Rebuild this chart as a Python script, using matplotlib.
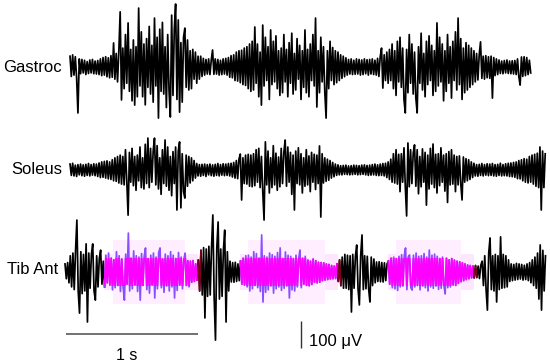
import matplotlib
matplotlib.use("Agg")
import matplotlib.pyplot as plt
from matplotlib.patches import Rectangle
import numpy as np

plt.rcParams['font.family'] = ['Liberation Sans', 'DejaVu Sans']

# ---------------- data (µV, sampled every 10 ms) ----------------
dt = 0.01
gastroc_t0 = 0.038
soleus_t0 = 0.038
tib_t0 = 0.0

gastroc = [
    40, -35, 45, -30, 38, -40, -170, 30, -25, 28, -22, 25, -28, 20, -24, 26, -22, 28, -25, 22,
    -26, 24, -28, 30, -32, 35, -30, 38, -36, 34, -40, 42, -38, 89, -45, 50, -55, 60, 204, -122,
    70, -80, 120, -60, 163, -90, 65, -125, 100, -141, 75, -110, 218, -70, 130, -110, 85, -140, 105, -75,
    150, -100, 80, -130, 181, -70, 110, -189, 140, -90, 165, -100, 75, -150, 120, -85, -185, 192, -105, 140,
    233, -120, 174, -167, 90, -130, 110, 144, -75, 100, -85, 60, -80, 65, -45, 55, -60, 40, -45, 40,
    -35, 32, -30, 28, -26, 30, -28, 25, 63, -27, 30, -26, 28, -30, 25, -28, 30, -26, 32, -30,
    35, -38, 42, -40, 45, -50, 55, -52, 60, -58, 62, -65, 70, -68, 75, -80, 85, -90, 95, -85,
    148, -60, 85, -110, 55, -141, 155, -70, 110, -50, 75, -120, 137, -65, 95, -55, 115, -80, 60, -105,
    70, -95, 120, -55, 65, -110, 90, -60, 125, -100, 50, -85, 105, -45, 80, -120, 60, -75, 137, -95,
    65, -110, 85, -50, 120, -70, 181, -148, 60, -95, 110, -55, 75, -90, -189, 60, -80, 95, -50, 72,
    -65, 60, -58, 55, -50, 45, -42, 40, -36, 34, -30, 28, -26, 30, -28, 25, -27, 30, -26, 28,
    -30, 26, -28, 30, -25, 27, -30, 28, -26, 30, -28, 25, -30, 32, -35, 38, 70, -78, 45, -50,
    55, -60, 65, -50, 85, -80, 60, -105, 95, -55, 110, -75, 70, -120, -170, 65, -95, 120, -60, 85,
    -100, 55, -115, -170, 75, -60, 125, -85, 50, -110, 95, -65, 115, -50, 80, -105, 60, -90, 163, -70,
    110, -55, 85, -125, 60, -90, 120, -60, 75, -115, 95, -50, 130, -85, 181, -65, 105, -120, 70, -95,
    90, -85, 80, -75, 70, -65, 60, -55, 50, -48, 45, 93, -42, 40, -45, 42, -40, 38, -42, 40,
    -115, 35, -32, 30, -28, 26, -24, 22, -25, 24, -22, 26, -24, 22, -25, 23, -26, 24, -28, 30,
    -35, -67, 37, -35, 38, -32, 35, -28, 25, -22,
]

soleus = [
    22, -20, 25, -22, 18, -24, 20, -18, 22, -21, 19, -23, 21, -20, 24, -22, 20, -19, 23, -21,
    22, -24, 26, -28, 30, -27, 32, -30, 34, -33, 30, -35, 38, -40, 45, -42, 50, -48, 55, -52,
    50, -55, 75, -40, -167, 65, -45, 80, -58, 50, -75, 55, -40, 85, -65, 45, -70, 95, -50, 118,
    -65, 80, -45, 70, 118, -55, 90, -70, 45, -90, 75, -50, 111, -60, 85, -75, 50, -95, 68, -50,
    85, -148, 70, 104, -140, 60, -80, -104, 55, -60, 50, -48, 45, -40, 35, -30, 24, -22, 20, -23,
    21, -20, 22, -24, 20, -18, 22, -21, 19, -23, 21, -20, 24, -22, 20, -19, 23, -21, 22, -20,
    24, -22, 25, -26, 28, -30, 35, -32, 40, 59, -111, 45, -50, 55, -52, 58, -60, 55, -62, 60,
    -58, 75, -45, 80, -65, 50, -78, -185, 104, -55, 70, -85, 45, -65, 90, -55, 62, -75, 48, -62,
    80, -50, 65, 111, -60, 85, -45, 65, -90, 55, -148, 70, -50, 82, -55, 60, -85, 45, -60, 75,
    -55, 52, -80, 65, -45, 58, -72, 55, -50, 89, -174, 60, -48, 45, -42, 40, -38, 35, -30, 28,
    -25, 22, -20, 19, -18, 16, -18, 17, -16, 18, -17, 15, -18, 16, -17, 18, -16, 17, -18, 16,
    -17, 18, -16, 19, -18, 17, -20, 18, -19, 20, -18, 22, -20, 19, -21, 22, -20, 24, -22, 25,
    -28, 30, -35, 40, -45, 60, -48, 75, -52, 58, -80, 60, -45, 82, -60, -170, 100, -62, 75, -50,
    62, 93, -60, 75, -88, 50, -62, 78, -45, 65, -130, 55, -70, 80, -52, 96, -65, 58, -85, 60,
    -58, 82, -45, 55, -78, 60, -120, 68, -55, 75, -52, 55, -80, 50, -55, 52, -50, -111, 48, -45,
    42, -40, 38, -35, 30, -28, 25, -22, 20, -23, 21, -20, 24, -22, 20, -19, 23, -21, 22, -20,
    24, -22, 20, -23, 21, -20, 25, -22, 20, -21, 23, -22, 25, -24, 26, -25, 28, -27, 30, -32,
    35, -33, 38, -40, 42, -45, 40, -48, 50, -45, 55, -52, 58, -60, 62, -65, 85, -148, 70, -65,
    60,
]

tib_ant = [
    30, -25, 35, -40, 60, -55, 70, -65, 80, 192, -70, -152, 75, -80, 65, -70, 104, -185, 70, -60,
    65, 104, -70, -104, 60, -55, 50, 81, -45, 40, -55, 62, -40, 70, -48, 52, -66, 45, -58, 75,
    -50, 60, -72, 48, -55, -104, 66, -45, 144, -70, 52, -62, 78, -48, 60, -72, 55, -104, 68, -50,
    58, 89, -65, 50, -78, 62, -48, 70, -96, 55, -62, 72, 89, -58, 48, -75, 66, -52, 60, -70,
    75, -55, 62, -96, 50, -68, 72, -48, 55, -62, 45, 70, -50, 42, -55, 40, -38, 42, -35, 30,
    -30, 45, -70, 80, -85, 90, -170, 85, -90, 95, -85, 90, 211, -95, -252, 90, 185, -100, 85, -90,
    80, 155, -185, 75, -70, 40, -37, 35, -38, 36, -35, 30, -32, 40, -45, 52, -48, 60, -55, 62,
    -70, 55, -62, 75, -50, 68, -58, 52, -72, 137, -111, 60, -75, 55, -66, 70, -52, 64, -78, 58,
    -62, 72, -55, 89, -68, 50, -60, 74, -52, 62, -96, 58, -66, 50, -70, 62, -55, 48, 81, -58,
    52, -45, 58, -50, 44, -52, 40, -46, 48, -38, 42, -40, 36, -38, 35, -32, 34, -30, 30, -28,
    28, -26, 24, -25, 22, -24, 30, -35, 45, -50, 55, -60, 65, -60, 62, -65, 60, -148, 65, -60,
    58, 100, -62, -122, 60, 137, -65, 60, -62, 58, -60, -111, 55, -50, 48, -40, 37, -35, 38, -36,
    35, -37, 34, -32, 30, 40, -45, 52, -58, 55, -62, 50, -68, 58, -55, 64, -52, 60, 89, -65,
    55, 63, -58, -67, 62, -55, 70, -50, 58, -66, 60, -52, 68, -58, 55, -70, 81, -55, 62, -60,
    66, -52, 58, -64, 50, -60, 55, -48, -81, 52, -58, 45, -55, 50, -48, 44, -50, 40, -42, 38,
    -36, 34, -32, 30, -28, 26, -25, 24, -22, 20, -22, 24, -20, 22, -24, 25, 40, -50, 60, -65,
    -141, 70, 126, -65, 60, -70, 65, -111, 60, -65, 130, -60, 65, -58, 60, -55, 45, -35, 30, -32,
    28, -30, 32, -28, 30, -26, 28, -30, 25, -28, 30, -32, 35, -40, 45, -50, 55, -60, 70, -100,
    100, -141, 80, -70, 60,
]

# Tib Ant highlighted (magenta) stretches, as sample index ranges
tib_magenta = [(30, 100), (133, 206), (245, 309)]

labels = ["Gastroc", "Soleus", "Tib Ant"]
time_bar_s = 1.0
amp_bar_uv = 100
time_bar_label = "1 s"
amp_bar_label = "100 \u03bcV"

# ---------------- layout ----------------
PX = 3.7  # µV per pixel
W, H = 550, 361
fig = plt.figure(figsize=(W / 100, H / 100), dpi=100)
ax = fig.add_axes([0, 0, 1, 1])
ax.set_xlim(-65 / 132, (W - 65) / 132)
ax.set_ylim(-H * PX, 0)
ax.axis('off')

base = {"Gastroc": -67 * PX, "Soleus": -170 * PX, "Tib Ant": -272 * PX}
lw = 1.25

def tvec(t0, n):
    return t0 + dt * np.arange(n)

# Gastroc & Soleus
for name, arr, t0 in [("Gastroc", gastroc, gastroc_t0), ("Soleus", soleus, soleus_t0)]:
    y = np.asarray(arr, float)
    ax.plot(tvec(t0, len(y)), base[name] + y, color='black', lw=lw)

# Tib Ant
y = np.asarray(tib_ant, float)
t = tvec(tib_t0, len(y))
b = base["Tib Ant"]

# halo behind magenta parts
for (s, e) in tib_magenta:
    ts, te = t[s], t[e]
    ax.add_patch(Rectangle((ts - 0.005, b - 68), te - ts + 0.01, 136,
                           facecolor='#ffe6ff', edgecolor='none', zorder=0))
    ax.add_patch(Rectangle((ts + 0.06, b - 118), te - ts - 0.15, 236,
                           facecolor='#ffeeff', edgecolor='none', zorder=0))

# black parts
edges = [0] + [v for seg in tib_magenta for v in seg] + [len(y) - 1]
black_segs = [(edges[i], edges[i + 1]) for i in range(0, len(edges), 2)]
for k, (s, e) in enumerate(black_segs):
    ax.plot(t[s:e + 1], b + y[s:e + 1], color='black', lw=lw, zorder=3)
    if k > 0:
        ax.plot(t[s:s + 4], b + y[s:s + 4], color='#7a0020', lw=lw, zorder=4)

for (s, e) in tib_magenta:
    ax.plot(t[s:e + 1], b + y[s:e + 1], color='#8a4dff', lw=lw, zorder=3)
    ln, = ax.plot(t[s:e + 1], b + y[s:e + 1], color='#ff00ff', lw=lw, zorder=4)
    clip = Rectangle((t[s] - 0.01, b - 50), t[e] - t[s] + 0.02, 100,
                     transform=ax.transData)
    ln.set_clip_path(clip)

# labels
for name, ypx, xr in [("Gastroc", 68, 62), ("Soleus", 170, 62), ("Tib Ant", 270, 58)]:
    ax.text((xr - 65) / 132, -ypx * PX, name, ha='right', va='center', fontsize=12)

# scale bars
ybar = -334 * PX
ax.plot([0.005, 0.005 + time_bar_s], [ybar, ybar], color='#666666', lw=1.3,
        solid_capstyle='butt')
ax.text(0.005 + time_bar_s / 2 - 0.04, -355 * PX, time_bar_label,
        ha='center', va='center', fontsize=11.5)
xv = (301 - 65) / 132
ax.plot([xv, xv], [-321 * PX, -321 * PX - amp_bar_uv], color='#333333', lw=1.0,
        solid_capstyle='butt')
ax.text(xv + 8 / 132, -341 * PX, amp_bar_label, ha='left', va='center', fontsize=12)

fig.savefig("out.png", dpi=100)
